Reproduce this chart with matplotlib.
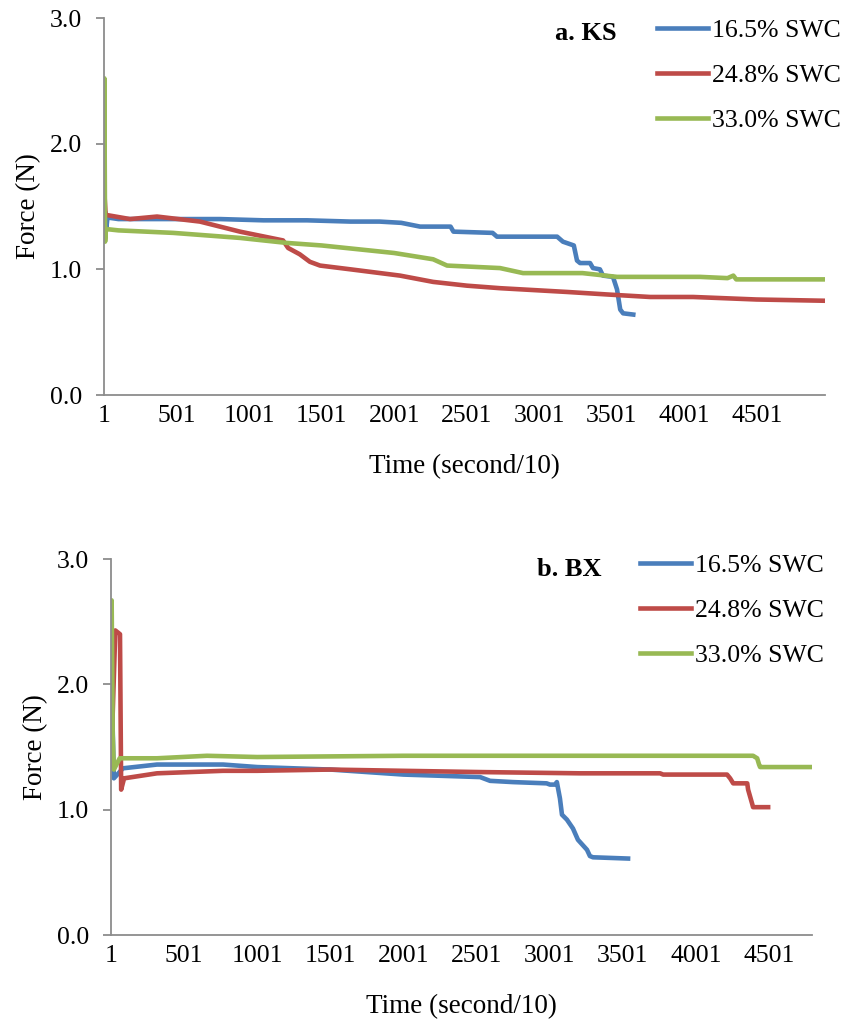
import numpy as np
import matplotlib
matplotlib.use("Agg")
import matplotlib.pyplot as plt

plt.rcParams['font.family'] = ['Liberation Serif', 'DejaVu Serif']

labels = ["16.5% SWC", "24.8% SWC", "33.0% SWC"]
colors = ["#4A7EBB", "#BE4B48", "#98B954"]
xticks = [1, 501, 1001, 1501, 2001, 2501, 3001, 3501, 4001, 4501]
yticks = [0.0, 1.0, 2.0, 3.0]

# a. KS
ks_t16 = [1, 8, 15, 25, 40, 100, 250, 500, 800, 1100, 1400, 1700, 1900, 2050, 2180, 2390,
          2410, 2680, 2710, 3125, 3165, 3240, 3262, 3283, 3352, 3372, 3420, 3441, 3510,
          3538, 3560, 3580, 3650]
ks_f16 = [1.36, 1.46, 1.31, 1.42, 1.41, 1.40, 1.40, 1.40, 1.40, 1.39, 1.39, 1.38, 1.38,
          1.37, 1.34, 1.34, 1.30, 1.29, 1.26, 1.26, 1.22, 1.19, 1.07, 1.05, 1.05, 1.01,
          1.00, 0.95, 0.94, 0.84, 0.68, 0.65, 0.64]
ks_t24 = [1, 5, 12, 30, 180, 366, 662, 938, 1235, 1270, 1350, 1420, 1490, 1700, 2042,
          2270, 2503, 2731, 3193, 3470, 3766, 4063, 4500, 4970]
ks_f24 = [1.40, 1.57, 1.43, 1.43, 1.40, 1.42, 1.38, 1.30, 1.23, 1.17, 1.12, 1.06, 1.03,
          1.00, 0.95, 0.90, 0.87, 0.85, 0.82, 0.80, 0.78, 0.78, 0.76, 0.75]
ks_t33 = [1, 3, 8, 14, 20, 100, 478, 938, 1262, 1501, 2001, 2270, 2366, 2731, 2890, 3300,
          3538, 4110, 4300, 4340, 4360, 4970]
ks_f33 = [1.30, 2.52, 1.22, 1.32, 1.32, 1.31, 1.29, 1.25, 1.21, 1.19, 1.13, 1.08, 1.03,
          1.01, 0.97, 0.97, 0.94, 0.94, 0.93, 0.95, 0.92, 0.92]

# b. BX
bx_t16 = [1, 3, 20, 82, 315, 767, 1001, 1501, 2001, 2525, 2593, 2750, 2980, 3003, 3037,
          3050, 3071, 3085, 3119, 3160, 3194, 3256, 3276, 3297, 3537]
bx_f16 = [1.40, 2.09, 1.25, 1.33, 1.36, 1.36, 1.34, 1.32, 1.28, 1.26, 1.23, 1.22, 1.21,
          1.20, 1.20, 1.22, 1.09, 0.96, 0.92, 0.85, 0.76, 0.68, 0.63, 0.62, 0.61]
bx_t24 = [1, 30, 62, 70, 90, 315, 767, 1001, 1501, 2001, 2525, 3209, 3756, 3777, 4214,
          4235, 4256, 4352, 4358, 4385, 4392, 4495]
bx_f24 = [1.35, 2.43, 2.40, 1.16, 1.25, 1.29, 1.31, 1.31, 1.32, 1.31, 1.30, 1.29, 1.29,
          1.28, 1.28, 1.25, 1.21, 1.21, 1.16, 1.05, 1.02, 1.02]
bx_t33 = [1, 5, 12, 20, 60, 315, 657, 1000, 2000, 3000, 4392, 4420, 4433, 4440, 4782]
bx_f33 = [1.45, 2.67, 1.60, 1.32, 1.41, 1.41, 1.43, 1.42, 1.43, 1.43, 1.43, 1.41, 1.36,
          1.34, 1.34]


def draw_panel(ax, series, xmax, title, title_xy, leg_anchor):
    for (t, f), c, lab in zip(series, colors, labels):
        ax.plot(t, f, color=c, linewidth=3.3, label=lab, solid_joinstyle='round')
    ax.set_xlim(0.5, xmax)
    ax.set_ylim(0, 3.0)
    ax.set_xticks(xticks)
    ax.set_xticklabels([str(v) for v in xticks])
    ax.set_yticks(yticks)
    ax.set_yticklabels(["%.1f" % v for v in yticks])
    for s in ["top", "right"]:
        ax.spines[s].set_visible(False)
    for s in ["left", "bottom"]:
        ax.spines[s].set_color("#8C8C8C")
        ax.spines[s].set_linewidth(1.3)
    ax.tick_params(axis="x", length=0, pad=7, labelsize=18.5)
    ax.tick_params(axis="y", length=6, width=1.3, color="#8C8C8C", pad=10, labelsize=18.5)
    ax.set_xlabel("Time (second/10)", fontsize=19.5, labelpad=20)
    ax.set_ylabel("Force (N)", fontsize=19.5, labelpad=6)
    ax.text(title_xy[0], title_xy[1], title, transform=ax.figure.transFigure,
            fontsize=19, fontweight="bold", va="center", ha="left")
    ax.legend(loc="upper left", bbox_to_anchor=leg_anchor,
              bbox_transform=ax.figure.transFigure, frameon=False, fontsize=18.5,
              handlelength=2.0, handletextpad=0.15, labelspacing=0.86, borderpad=0,
              borderaxespad=0)


fig = plt.figure(figsize=(8.5, 10.29), dpi=100)
ax1 = fig.add_axes([104 / 850, 1 - 395 / 1029, 721 / 850, 377 / 1029])
ax2 = fig.add_axes([111 / 850, 1 - 935 / 1029, 701 / 850, 376 / 1029])

draw_panel(ax1, [(ks_t16, ks_f16), (ks_t24, ks_f24), (ks_t33, ks_f33)], 4972,
           "a. KS", (555 / 850, 1 - 33 / 1029), (657 / 850, 1 - 19 / 1029))
draw_panel(ax2, [(bx_t16, bx_f16), (bx_t24, bx_f24), (bx_t33, bx_f33)], 4795,
           "b. BX", (537 / 850, 1 - 570 / 1029), (640 / 850, 1 - 554 / 1029))

fig.savefig("out.png", dpi=100)
